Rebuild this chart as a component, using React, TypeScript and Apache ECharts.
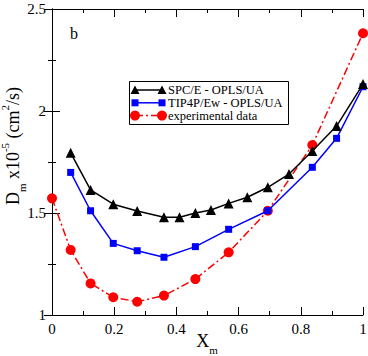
import React, { useEffect, useRef } from "react";
import * as echarts from "echarts";

const spceX = [0.06, 0.124, 0.197, 0.274, 0.36, 0.41, 0.461, 0.511, 0.568, 0.628, 0.694, 0.762, 0.837, 0.915, 1.0];
const spceY = [1.795, 1.613, 1.543, 1.51, 1.479, 1.479, 1.5, 1.515, 1.547, 1.577, 1.626, 1.691, 1.804, 1.926, 2.132];
const tipX = [0.06, 0.124, 0.197, 0.274, 0.36, 0.461, 0.568, 0.694, 0.837, 0.915, 1.0];
const tipY = [1.699, 1.511, 1.351, 1.315, 1.283, 1.335, 1.42, 1.511, 1.724, 1.866, 2.119];
const expX = [0, 0.06, 0.124, 0.197, 0.274, 0.36, 0.461, 0.568, 0.694, 0.837, 1.0];
const expY = [1.572, 1.319, 1.155, 1.087, 1.065, 1.095, 1.176, 1.307, 1.511, 1.833, 2.381];
const seriesNames = ["SPC/E - OPLS/UA", "TIP4P/Ew - OPLS/UA", "experimental data"];
const yTitle = "{n|D}{s|m}{n| x10}{p|-5}{n| (cm}{p|2}{n|/s)}";
const xTitle = "{n|X}{s|m}";

const FONT = "Liberation Serif";

const zip = (xs: number[], ys: number[]) => xs.map((x, i) => [x, ys[i]]);

export default function App() {
  const ref = useRef<HTMLDivElement>(null);
  useEffect(() => {
    document.body.style.margin = "0";
    const chart = echarts.init(ref.current!, null, { renderer: "svg" });
    const axisCommon = {
      type: "value" as const,
      axisLine: { show: true, lineStyle: { color: "#000", width: 1 } },
      axisTick: { show: true, inside: true, length: 8, lineStyle: { color: "#000" } },
      minorTick: { show: true, splitNumber: 2, length: 4, lineStyle: { color: "#000" } },
      splitLine: { show: false },
      minorSplitLine: { show: false },
    };
    const titleRich = {
      n: { fontSize: 18, fontFamily: FONT, fill: "#000", lineHeight: 28 },
      s: { fontSize: 11, fontFamily: FONT, fill: "#000", lineHeight: 11, verticalAlign: "bottom" },
      p: { fontSize: 11, fontFamily: FONT, fill: "#000", lineHeight: 11, verticalAlign: "top" },
    };
    const legendRows = [
      { y: 90, color: "#000", shape: "tri" },
      { y: 102.8, color: "#0000ff", shape: "sq" },
      { y: 115.6, color: "#ff0000", shape: "circ" },
    ];
    const marker = (shape: string, cx: number, cy: number, color: string) => {
      if (shape === "tri")
        return { type: "polygon", shape: { points: [[cx - 4.5, cy + 4], [cx + 4.5, cy + 4], [cx, cy - 4.5]] }, style: { fill: color } };
      if (shape === "sq")
        return { type: "rect", shape: { x: cx - 3.5, y: cy - 3.5, width: 7, height: 7 }, style: { fill: color } };
      return { type: "circle", shape: { cx, cy, r: 5 }, style: { fill: color } };
    };
    const els: any[] = [
      { type: "rect", shape: { x: 129.5, y: 81.5, width: 159, height: 43 }, style: { fill: "#fff", stroke: "#000", lineWidth: 1 } },
    ];
    legendRows.forEach((r, i) => {
      els.push({
        type: "line",
        shape: { x1: 135, y1: r.y, x2: 162, y2: r.y },
        style: { stroke: r.color, lineWidth: 1.5, lineDash: i === 2 ? [8, 3, 2, 3] : null },
      });
      els.push(marker(r.shape, 135, r.y, r.color));
      els.push(marker(r.shape, 162, r.y, r.color));
      els.push({
        type: "text",
        x: 168,
        y: r.y,
        style: { text: seriesNames[i], fontFamily: FONT, fontSize: 12.5, lineHeight: 12, fill: "#000", verticalAlign: "middle", align: "left" },
      });
    });
    els.push({
      type: "text",
      x: 74,
      y: 33,
      style: { text: "b", fontFamily: FONT, fontSize: 16, fill: "#000", verticalAlign: "middle", align: "center" },
    });
    els.push({
      type: "text",
      x: 13,
      y: 146,
      rotation: Math.PI / 2,
      style: { text: yTitle, rich: titleRich, align: "center", verticalAlign: "middle" },
    });
    els.push({
      type: "text",
      x: 207,
      y: 341,
      style: { text: xTitle, rich: titleRich, align: "center", verticalAlign: "middle" },
    });

    chart.setOption({
      animation: false,
      backgroundColor: "#fff",
      textStyle: { fontFamily: FONT },
      grid: { left: 52, right: 5, top: 9, bottom: 41, outerBoundsMode: "none", containLabel: false },
      xAxis: [
        {
          ...axisCommon,
          position: "bottom",
          min: 0,
          max: 1,
          interval: 0.2,
          axisLabel: { color: "#000", fontSize: 15, fontFamily: FONT, margin: 6 },
        },
        { ...axisCommon, position: "top", min: 0, max: 1, interval: 0.2, axisLabel: { show: false } },
      ],
      yAxis: [
        {
          ...axisCommon,
          position: "left",
          min: 1,
          max: 2.5,
          interval: 0.5,
          axisLabel: { color: "#000", fontSize: 15, fontFamily: FONT, margin: 6 },
        },
        { ...axisCommon, position: "right", min: 1, max: 2.5, interval: 0.5, axisLabel: { show: false } },
      ],
      series: [
        {
          name: seriesNames[2],
          type: "line",
          data: zip(expX, expY),
          symbol: "circle",
          symbolSize: 10,
          itemStyle: { color: "#ff0000" },
          lineStyle: { color: "#ff0000", width: 1.5, type: [8, 3, 2, 3] },
          z: 2,
        },
        {
          name: seriesNames[1],
          type: "line",
          data: zip(tipX, tipY),
          symbol: "rect",
          symbolSize: 7,
          itemStyle: { color: "#0000ff" },
          lineStyle: { color: "#0000ff", width: 1.5 },
          z: 3,
        },
        {
          name: seriesNames[0],
          type: "line",
          data: zip(spceX, spceY),
          symbol: "triangle",
          symbolSize: 10,
          itemStyle: { color: "#000" },
          lineStyle: { color: "#000", width: 1.5 },
          z: 4,
        },
      ],
      graphic: els,
    });
    return () => chart.dispose();
  }, []);
  return <div ref={ref} style={{ width: 368, height: 356 }} />;
}
